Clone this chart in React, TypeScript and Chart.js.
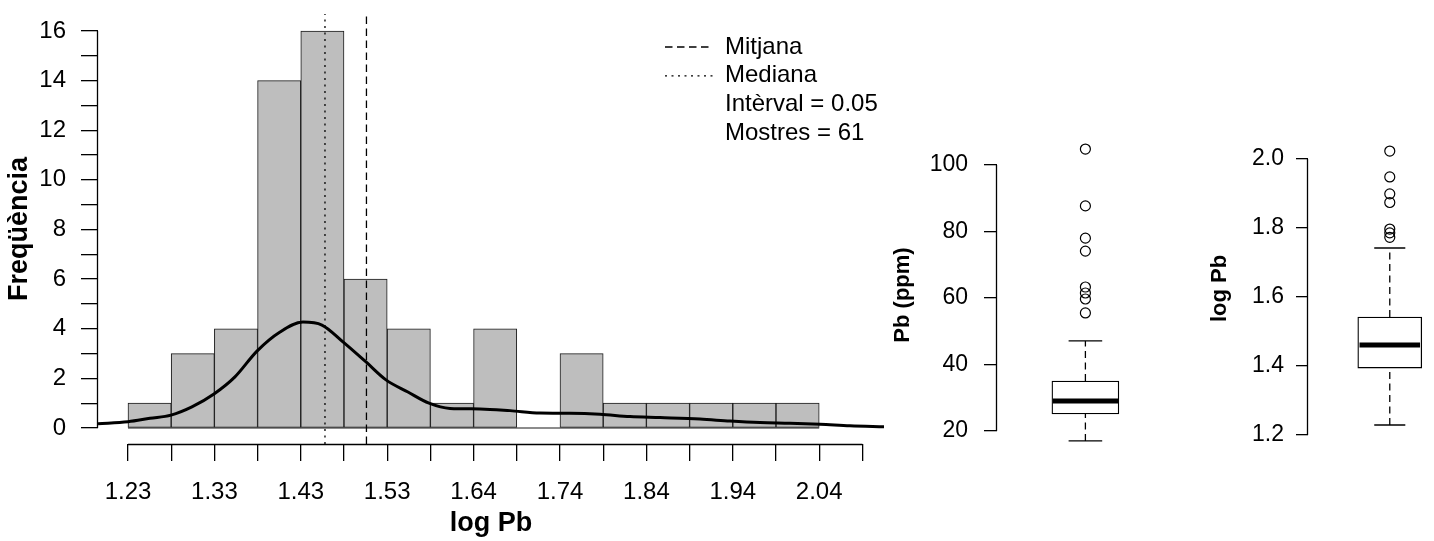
import React, { useEffect, useRef } from 'react';
import { Chart, registerables } from 'chart.js';

Chart.register(...registerables);

const FONT = "'Liberation Sans', Arial, Helvetica, sans-serif";
Chart.defaults.font.family = FONT;
Chart.defaults.color = '#000';

// ---------- Histogram data ----------
const binEdges = [1.23, 1.28, 1.33, 1.38, 1.43, 1.48, 1.53, 1.58, 1.63, 1.68, 1.73, 1.78, 1.83, 1.88, 1.93, 1.98, 2.03, 2.08];
const binLabels = ['1.23', '', '1.33', '', '1.43', '', '1.53', '', '1.64', '', '1.74', '', '1.84', '', '1.94', '', '2.04', ''];
const binCounts = [1, 3, 4, 14, 16, 6, 4, 1, 4, 0, 3, 1, 1, 1, 1, 1];
const densityX = [1.1953, 1.23, 1.2555, 1.2798, 1.304, 1.3295, 1.3538, 1.3793, 1.406, 1.4325, 1.4545, 1.4788, 1.5055, 1.5286, 1.554, 1.5784, 1.6027, 1.6374, 1.6721, 1.7069, 1.7416, 1.7763, 1.811, 1.8458, 1.892, 1.9268, 1.9615, 1.9962, 2.0309, 2.0656, 2.105];
const densityY = [0.17, 0.25, 0.39, 0.52, 0.85, 1.37, 2.06, 3.1, 3.87, 4.27, 4.15, 3.47, 2.66, 1.94, 1.45, 1.0, 0.79, 0.77, 0.7, 0.6, 0.59, 0.55, 0.46, 0.42, 0.36, 0.28, 0.22, 0.19, 0.15, 0.09, 0.05];
const meanLogPb = 1.506;
const medianLogPb = 1.458;
const freqTicks = [0, 1, 2, 3, 4, 5, 6, 7, 8, 9, 10, 11, 12, 13, 14, 15, 16];
const legendLabels = ['Mitjana', 'Mediana', 'Intèrval = 0.05', 'Mostres = 61'];

// ---------- Boxplot data: [lower whisker, Q1, median, Q3, upper whisker] ----------
const ppmBox = [17.0, 25.1, 29.0, 35.0, 47.1];
const ppmOutliers = [104.8, 87.7, 78.0, 74.1, 63.3, 61.5, 59.7, 55.5];
const ppmTicks = [20, 40, 60, 80, 100];
const ppmTickLabels = ['20', '40', '60', '80', '100'];
const logBox = [1.229, 1.394, 1.461, 1.542, 1.742];
const logOutliers = [2.023, 1.948, 1.899, 1.874, 1.797, 1.786, 1.773];
const logTicks = [1.2, 1.4, 1.6, 1.8, 2.0];
const logTickLabels = ['1.2', '1.4', '1.6', '1.8', '2.0'];

// ---------- axis limits / style constants ----------
const X_MIN = 1.1953;
const X_MAX = 2.105;
const FREQ_MIN = -0.645;
const FREQ_MAX = 16.685;
const BOX_HALF = 0.37;
const CAP_HALF = 0.19;
const DASH = [7.5, 4.5];
const DOT = [2, 4.5];

const axisLinePlugin = {
  id: 'rAxisLines',
  afterDatasetsDraw(chart: any, _args: any, opts: any) {
    const ctx = chart.ctx;
    ctx.save();
    ctx.strokeStyle = '#000';
    ctx.lineWidth = 1.3;
    ctx.setLineDash([]);
    const ys = chart.scales.y;
    if (ys && opts.y) {
      const t = ys.ticks;
      const x0 = Math.round(ys.right) - 0.5;
      ctx.beginPath();
      ctx.moveTo(x0, ys.getPixelForValue(t[0].value));
      ctx.lineTo(x0, ys.getPixelForValue(t[t.length - 1].value));
      ctx.stroke();
    }
    const xs = chart.scales.x;
    if (xs && opts.x) {
      const t = xs.ticks;
      const y0 = Math.round(xs.top) + 0.5;
      ctx.beginPath();
      ctx.moveTo(xs.getPixelForValue(t[0].value), y0);
      ctx.lineTo(xs.getPixelForValue(t[t.length - 1].value), y0);
      ctx.stroke();
    }
    ctx.restore();
  },
};

const legendPlacePlugin = {
  id: 'legendPlace',
  afterLayout(chart: any, _args: any, opts: any) {
    const lg = chart.legend;
    if (!lg || !opts || opts.left === undefined) return;
    lg.left = opts.left;
    lg.top = opts.top;
    lg.width = opts.width;
    lg.height = opts.height;
    lg.right = opts.left + opts.width;
    lg.bottom = opts.top + opts.height;
  },
};

function histConfig(): any {
  const vline = (x: number, dash: number[], label: string) => ({
    type: 'line',
    label,
    data: [{ x, y: FREQ_MIN }, { x, y: FREQ_MAX }],
    borderColor: '#000',
    borderWidth: 1.3,
    borderDash: dash,
    pointRadius: 0,
    order: 1,
  });
  return {
    type: 'bar',
    data: {
      datasets: [
        vline(meanLogPb, DASH, 'Mitjana'),
        vline(medianLogPb, DOT, 'Mediana'),
        {
          type: 'line',
          label: 'Densitat',
          data: densityX.map((x, i) => ({ x, y: densityY[i] })),
          borderColor: '#000',
          borderWidth: 3,
          pointRadius: 0,
          cubicInterpolationMode: 'monotone',
          order: 2,
        },
        {
          type: 'line',
          label: 'base',
          data: [{ x: binEdges[0], y: 0 }, { x: binEdges[binCounts.length], y: 0 }],
          borderColor: '#1a1a1a',
          borderWidth: 1.2,
          pointRadius: 0,
          order: 3,
        },
        {
          type: 'bar',
          label: 'Freqüència',
          data: binCounts.map((c, i) => ({ x: (binEdges[i] + binEdges[i + 1]) / 2, y: c })),
          backgroundColor: '#bebebe',
          borderColor: '#1a1a1a',
          borderWidth: 1,
          borderSkipped: false,
          barPercentage: 1,
          categoryPercentage: 1,
          order: 4,
        },
      ],
    },
    options: {
      animation: false,
      responsive: false,
      devicePixelRatio: 1,
      events: [],
      layout: { padding: { top: 14, right: 2, bottom: 0, left: 0 } },
      scales: {
        x: {
          type: 'linear',
          min: X_MIN,
          max: X_MAX,
          offset: false,
          afterBuildTicks: (s: any) => {
            s.ticks = binEdges.map((v) => ({ value: v }));
          },
          afterFit: (s: any) => {
            s.height = 97;
            s.paddingLeft = 0;
            s.paddingRight = 0;
          },
          ticks: {
            autoSkip: false,
            maxRotation: 0,
            minRotation: 0,
            padding: 17,
            color: '#000',
            font: { family: FONT, size: 24 },
            callback: (_v: any, i: number) => binLabels[i],
          },
          grid: { display: true, drawOnChartArea: false, drawTicks: true, tickLength: 17, color: '#000', lineWidth: 1.3, offset: false },
          border: { display: false },
          title: { display: true, text: 'log Pb', color: '#000', font: { family: FONT, size: 27, weight: 'bold' }, padding: { top: 0, bottom: 1.2 } },
        },
        y: {
          type: 'linear',
          min: FREQ_MIN,
          max: FREQ_MAX,
          afterBuildTicks: (s: any) => {
            s.ticks = freqTicks.map((v) => ({ value: v }));
          },
          afterFit: (s: any) => {
            s.width = 98;
            s.paddingTop = 0;
            s.paddingBottom = 0;
          },
          ticks: {
            autoSkip: false,
            padding: 15,
            color: '#000',
            font: { family: FONT, size: 24 },
            callback: (v: number) => (v % 2 === 0 ? String(v) : ''),
          },
          grid: { display: true, drawOnChartArea: false, drawTicks: true, tickLength: 17, color: '#000', lineWidth: 1.3 },
          border: { display: false },
          title: { display: true, text: 'Freqüència', color: '#000', font: { family: FONT, size: 27, weight: 'bold' }, padding: { top: 3.2, bottom: 0 } },
        },
      },
      plugins: {
        tooltip: { enabled: false },
        title: { display: false },
        legend: {
          display: true,
          position: 'chartArea',
          align: 'start',
          labels: {
            usePointStyle: true,
            pointStyleWidth: 48,
            boxHeight: 24,
            padding: 4.8,
            color: '#000',
            font: { family: FONT, size: 24 },
            generateLabels: () =>
              legendLabels.map((text, i) => ({
                text,
                fillStyle: 'rgba(0,0,0,0)',
                strokeStyle: '#000',
                lineWidth: i < 2 ? 1.3 : 0,
                lineDash: i === 0 ? DASH : i === 1 ? DOT : [],
                pointStyle: 'line',
                fontColor: '#000',
                hidden: false,
                datasetIndex: i,
              })),
          },
        },
        legendPlace: { left: 660.2, top: 30.2, width: 225, height: 160 },
        rAxisLines: { x: true, y: true },
      },
    },
    plugins: [axisLinePlugin, legendPlacePlugin],
  };
}

function boxConfig(p: {
  stats: number[];
  outliers: number[];
  ticks: number[];
  tickLabels: string[];
  yMin: number;
  yMax: number;
  xMax: number;
  title: string;
  titlePad: number;
  axisWidth: number;
  tickLen: number;
  tickPad: number;
  padTop: number;
  padBottom: number;
  padRight: number;
  boxPx: number;
}): any {
  const [lo, q1, med, q3, hi] = p.stats;
  const seg = (pts: any[], extra: any) => ({
    type: 'line',
    data: pts,
    borderColor: '#000',
    borderWidth: 1.3,
    pointRadius: 0,
    fill: false,
    ...extra,
  });
  return {
    type: 'bar',
    data: {
      datasets: [
        seg([{ x: 1 - BOX_HALF, y: med }, { x: 1 + BOX_HALF, y: med }], { borderWidth: 5, order: 1 }),
        seg([{ x: 1, y: q3 }, { x: 1, y: hi }], { borderDash: [7, 4.5], order: 2 }),
        seg([{ x: 1, y: lo }, { x: 1, y: q1 }], { borderDash: [7, 4.5], order: 2 }),
        seg([{ x: 1 - CAP_HALF, y: hi }, { x: 1 + CAP_HALF, y: hi }], { order: 2 }),
        seg([{ x: 1 - CAP_HALF, y: lo }, { x: 1 + CAP_HALF, y: lo }], { order: 2 }),
        {
          type: 'line',
          data: p.outliers.map((v) => ({ x: 1, y: v })),
          showLine: false,
          pointRadius: 5,
          pointStyle: 'circle',
          pointBackgroundColor: 'rgba(0,0,0,0)',
          pointBorderColor: '#000',
          pointBorderWidth: 1.2,
          order: 2,
        },
        {
          type: 'bar',
          data: [{ x: 1, y: [q1, q3] }],
          backgroundColor: '#fff',
          borderColor: '#000',
          borderWidth: 1.3,
          borderSkipped: false,
          barThickness: p.boxPx,
          order: 3,
        },
      ],
    },
    options: {
      animation: false,
      responsive: false,
      devicePixelRatio: 1,
      events: [],
      layout: { padding: { top: p.padTop, right: p.padRight, bottom: p.padBottom, left: 0 } },
      scales: {
        x: { type: 'linear', display: false, min: 0, max: p.xMax, offset: false },
        y: {
          type: 'linear',
          min: p.yMin,
          max: p.yMax,
          afterBuildTicks: (s: any) => {
            s.ticks = p.ticks.map((v) => ({ value: v }));
          },
          afterFit: (s: any) => {
            s.width = p.axisWidth;
            s.paddingTop = 0;
            s.paddingBottom = 0;
          },
          ticks: {
            autoSkip: false,
            padding: p.tickPad,
            color: '#000',
            font: { family: FONT, size: 23 },
            callback: (_v: any, i: number) => p.tickLabels[i],
          },
          grid: { display: true, drawOnChartArea: false, drawTicks: true, tickLength: p.tickLen, color: '#000', lineWidth: 1.3 },
          border: { display: false },
          title: { display: true, text: p.title, color: '#000', font: { family: FONT, size: 22, weight: 'bold' }, padding: { top: p.titlePad, bottom: 0 } },
        },
      },
      plugins: {
        tooltip: { enabled: false },
        legend: { display: false },
        title: { display: false },
        rAxisLines: { y: true },
      },
    },
    plugins: [axisLinePlugin],
  };
}

function ChartCanvas({ left, width, makeConfig }: { left: number; width: number; makeConfig: () => any }) {
  const ref = useRef<HTMLCanvasElement>(null);
  useEffect(() => {
    const chart = new Chart(ref.current as HTMLCanvasElement, makeConfig());
    return () => chart.destroy();
  }, []);
  return (
    <canvas
      ref={ref}
      width={width}
      height={541}
      style={{ position: 'absolute', left, top: 0, width, height: 541, display: 'block' }}
    />
  );
}

export default function App() {
  return (
    <div style={{ position: 'absolute', left: 0, top: 0, width: 1434, height: 541, background: '#fff', overflow: 'hidden' }}>
      <ChartCanvas left={0} width={886} makeConfig={histConfig} />
      <ChartCanvas
        left={880}
        width={300}
        makeConfig={() =>
          boxConfig({
            stats: ppmBox,
            outliers: ppmOutliers,
            ticks: ppmTicks,
            tickLabels: ppmTickLabels,
            yMin: 13.38,
            yMax: 108.42,
            xMax: 2,
            title: 'Pb (ppm)',
            titlePad: 9.6,
            axisWidth: 117,
            tickLen: 13,
            tickPad: 16,
            padTop: 137,
            padBottom: 88,
            padRight: 2,
            boxPx: 67,
          })
        }
      />
      <ChartCanvas
        left={1180}
        width={254}
        makeConfig={() =>
          boxConfig({
            stats: logBox,
            outliers: logOutliers,
            ticks: logTicks,
            tickLabels: logTickLabels,
            yMin: 1.1681,
            yMax: 2.0812,
            xMax: 1.465,
            title: 'log Pb',
            titlePad: 26.3,
            axisWidth: 128,
            tickLen: 12,
            tickPad: 12,
            padTop: 131,
            padBottom: 95,
            padRight: 0,
            boxPx: 64,
          })
        }
      />
    </div>
  );
}
